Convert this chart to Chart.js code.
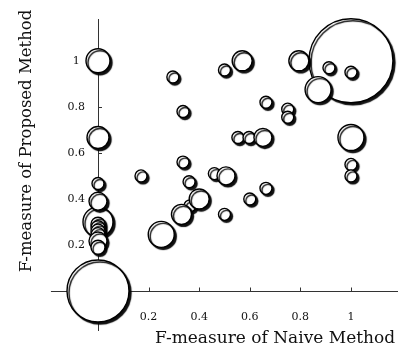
<!DOCTYPE html>
<html>
<head>
<meta charset="utf-8">
<script src="https://cdn.jsdelivr.net/npm/chart.js@4.4.1/dist/chart.umd.min.js"></script>
<style>
  html, body { margin: 0; padding: 0; background: #fff; }
</style>
</head>
<body>
<canvas id="scatterChart" width="399" height="350"></canvas>
<script>
// F-measure per query: naive method (x), proposed method (y), bubble weight (r)
const naiveF = [0, 1.0, 0, 0, 0, 0, 0, 0, 0, 0, 0, 0, 0,
    0.17, 0.296, 0.336, 0.336, 0.36, 0.364, 0.33, 0.40, 0.25, 0.46, 0.506, 0.50,
    0.50, 0.57, 0.553, 0.597, 0.652, 0.60, 0.664, 0.664, 0.75, 0.75,
    0.794, 0.913, 1.0, 0.87, 1.0, 1.0, 1.0];
const proposedF = [0, 1.0, 0.30, 1.0, 0.667, 0.467, 0.39, 0.29, 0.275, 0.26, 0.245, 0.217, 0.19,
    0.50, 0.93, 0.78, 0.56, 0.475, 0.37, 0.333, 0.40, 0.246, 0.51, 0.50, 0.333,
    0.96, 1.0, 0.667, 0.667, 0.667, 0.40, 0.446, 0.82, 0.79, 0.755,
    1.0, 0.97, 0.95, 0.875, 0.667, 0.55, 0.50];
const weight = [31, 42, 15, 12, 11, 6, 9, 7, 7, 7, 7, 9, 7,
    6, 6, 6, 6, 6, 6, 10, 10, 13, 6, 9, 6,
    6, 10, 6, 6, 9, 6, 6, 6, 6, 6,
    10, 6, 6, 13, 13, 6, 6];
const tickValues = [0.2, 0.4, 0.6, 0.8, 1];
const tickLabels = ['0.2', '0.4', '0.6', '0.8', '1'];

const points = proposedF.map((y, i) => ({ x: naiveF[i], y: y, r: weight[i] }));

const serif = "'DejaVu Serif', 'Liberation Serif', serif";
const xAxisFrom = -0.186; // x axis line runs a bit left of the y axis

const shadowPlugin = {
    id: 'shadow',
    beforeDatasetsDraw(chart) {
        const { ctx, scales: { x, y } } = chart;
        const x0 = x.getPixelForValue(0);
        const y0 = Math.round(y.getPixelForValue(0)) + 0.5;
        ctx.save();
        ctx.strokeStyle = '#333';
        ctx.lineWidth = 1;
        ctx.beginPath();
        ctx.moveTo(x.getPixelForValue(xAxisFrom), y0);
        ctx.lineTo(x0, y0);
        tickValues.forEach(v => {
            const px = Math.round(x.getPixelForValue(v)) + 0.5;
            ctx.moveTo(px, y0);
            ctx.lineTo(px, y0 - 4);
            const py = Math.round(y.getPixelForValue(v)) + 0.5;
            ctx.moveTo(x0, py);
            ctx.lineTo(x0 + 4, py);
        });
        ctx.stroke();
        ctx.restore();

        ctx.save();
        ctx.shadowColor = 'rgba(0,0,0,0.95)';
        ctx.shadowOffsetX = 2;
        ctx.shadowOffsetY = 2;
        ctx.shadowBlur = 1;
    },
    afterDatasetsDraw(chart) {
        chart.ctx.restore();
    },
    afterDraw(chart) {
        const ctx = chart.ctx;
        ctx.save();
        ctx.fillStyle = '#111';
        ctx.textAlign = 'center';
        ctx.textBaseline = 'alphabetic';
        ctx.font = '17px ' + serif;
        ctx.fillText('F-measure of Naive Method', 275, 343);
        ctx.font = '16.5px ' + serif;
        ctx.translate(31, 141);
        ctx.rotate(-Math.PI / 2);
        ctx.fillText('F-measure of Proposed Method', 0, 0);
        ctx.restore();
    }
};

const ctx = document.getElementById('scatterChart').getContext('2d');
const scatterChart = new Chart(ctx, {
    type: 'bubble',
    data: {
        datasets: [{
            data: points,
            backgroundColor: '#fff',
            borderColor: '#000',
            borderWidth: 1.4,
            hoverBorderWidth: 1.4,
            clip: false
        }]
    },
    options: {
        responsive: false,
        animation: false,
        events: [],
        layout: { autoPadding: false, padding: { left: 0, top: 13, right: 2, bottom: 13 } },
        plugins: {
            legend: { display: false },
            tooltip: { enabled: false }
        },
        scales: {
            x: {
                type: 'linear',
                position: { y: 0 },
                min: 0,
                max: 1.182,
                afterFit: scale => { scale.height = 0; },
                afterBuildTicks: scale => { scale.ticks = tickValues.map(v => ({ value: v })); },
                grid: { display: false, drawTicks: false, tickLength: 0 },
                border: { display: true, color: '#333', width: 1 },
                ticks: {
                    padding: 20,
                    color: '#111',
                    font: { family: serif, size: 11 },
                    callback: v => tickLabels[tickValues.indexOf(v)]
                }
            },
            y: {
                type: 'linear',
                position: 'left',
                min: -0.171,
                max: 1.179,
                afterFit: scale => { scale.width = 98; },
                afterBuildTicks: scale => { scale.ticks = tickValues.map(v => ({ value: v })); },
                grid: { display: false, drawTicks: false, tickLength: 0 },
                border: { display: true, color: '#333', width: 1 },
                ticks: {
                    padding: 13,
                    crossAlign: 'center',
                    color: '#111',
                    font: { family: serif, size: 11 },
                    callback: v => tickLabels[tickValues.indexOf(v)]
                }
            }
        }
    },
    plugins: [shadowPlugin]
});
</script>
</body>
</html>
